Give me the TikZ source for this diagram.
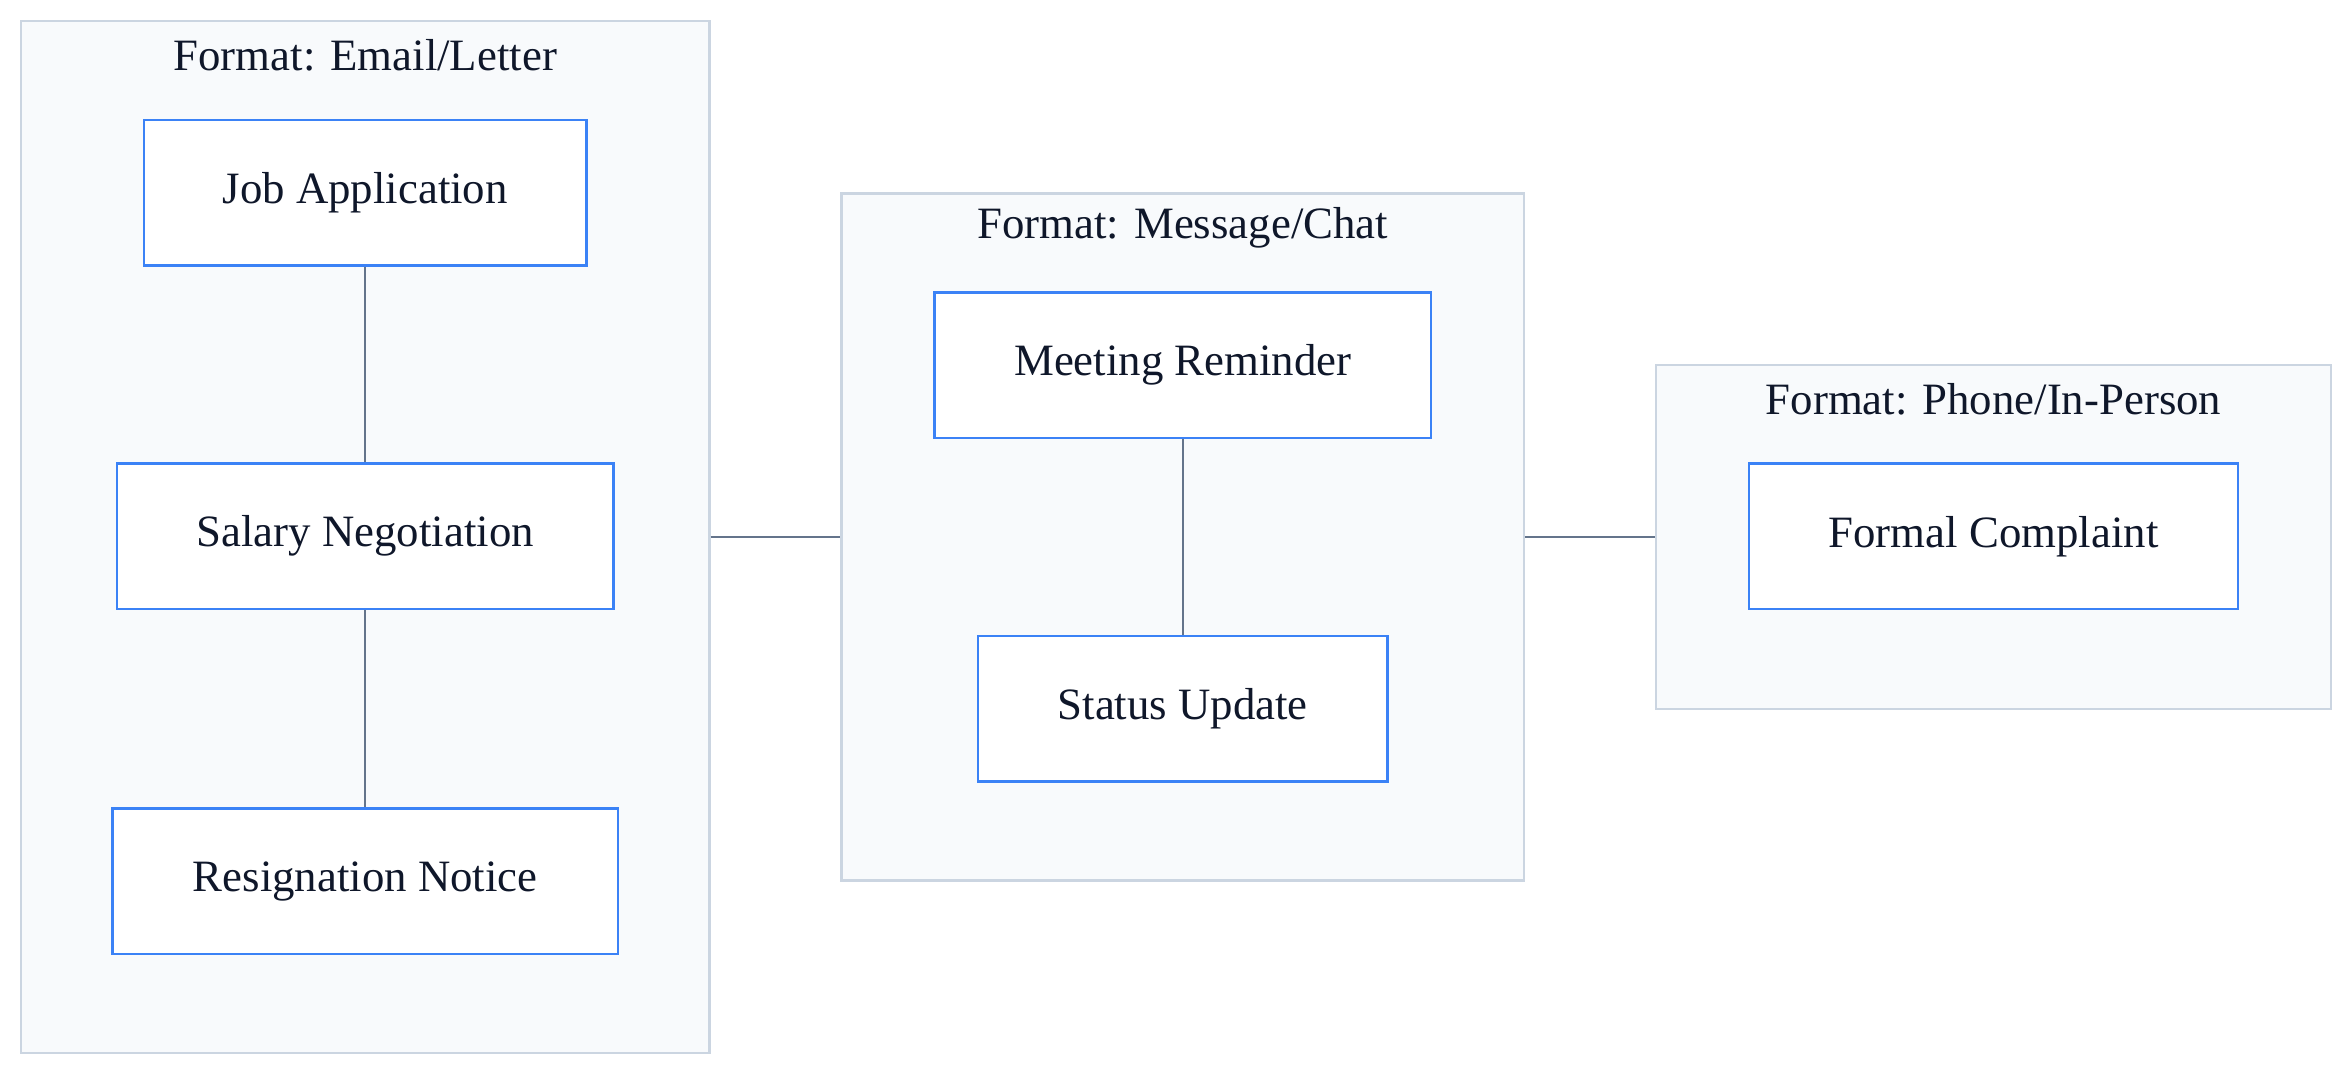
\documentclass[tikz,border=0pt]{standalone}
\usepackage{fontspec}
\setmainfont{Liberation Serif}
\usetikzlibrary{positioning}
\definecolor{clfill}{HTML}{F8FAFC}
\definecolor{cldraw}{HTML}{CBD5E1}
\definecolor{boxdraw}{HTML}{3B82F6}
\definecolor{linkc}{HTML}{64748B}
\definecolor{ink}{HTML}{0F172A}
\begin{document}
\begin{tikzpicture}[x=0.02cm,y=-0.02cm,
	cluster/.style={draw=cldraw,fill=clfill,line width=0.8pt,inner sep=0pt},
	item/.style={draw=boxdraw,fill=white,line width=0.9pt,inner sep=0pt,font=\fontsize{17}{20}\selectfont,text=ink},
	title/.style={font=\fontsize{17}{20}\selectfont,text=ink},
	link/.style={draw=linkc,line width=0.9pt}]
		\useasboundingbox (0,0) rectangle (1568,717);

		\node [cluster, minimum width=459*0.02cm, minimum height=688*0.02cm] (email) at (243.5,358) {};
		\node [cluster, minimum width=455*0.02cm, minimum height=458*0.02cm] (chat) at (788.5,358) {};
		\node [cluster, minimum width=450*0.02cm, minimum height=229*0.02cm] (phone) at (1329,358) {};

		\node [title] at (243.5,37) {Format: Email/Letter};
		\node [title] at (788.5,152) {Format: Message/Chat};
		\node [title] at (1329,266) {Format: Phone/In-Person};

		\node [item, minimum width=295*0.02cm, minimum height=97*0.02cm] (job) at (243.5,128.5) {Job Application};
		\node [item, minimum width=331*0.02cm, minimum height=97*0.02cm] (salary) at (243.5,357.5) {Salary Negotiation};
		\node [item, minimum width=337*0.02cm, minimum height=97*0.02cm] (resign) at (243.5,587.5) {Resignation Notice};
		\node [item, minimum width=331*0.02cm, minimum height=97*0.02cm] (meeting) at (788.5,243.5) {Meeting Reminder};
		\node [item, minimum width=273*0.02cm, minimum height=97*0.02cm] (status) at (788.5,472.5) {Status Update};
		\node [item, minimum width=326*0.02cm, minimum height=97*0.02cm] (complaint) at (1329,357.5) {Formal Complaint};

		\draw [link]
			(job) -- (salary)
			(salary) -- (resign)
			(meeting) -- (status)
			(email.east) -- (chat.west)
			(chat.east) -- (phone.west)
		;
	\end{tikzpicture}
\end{document}
